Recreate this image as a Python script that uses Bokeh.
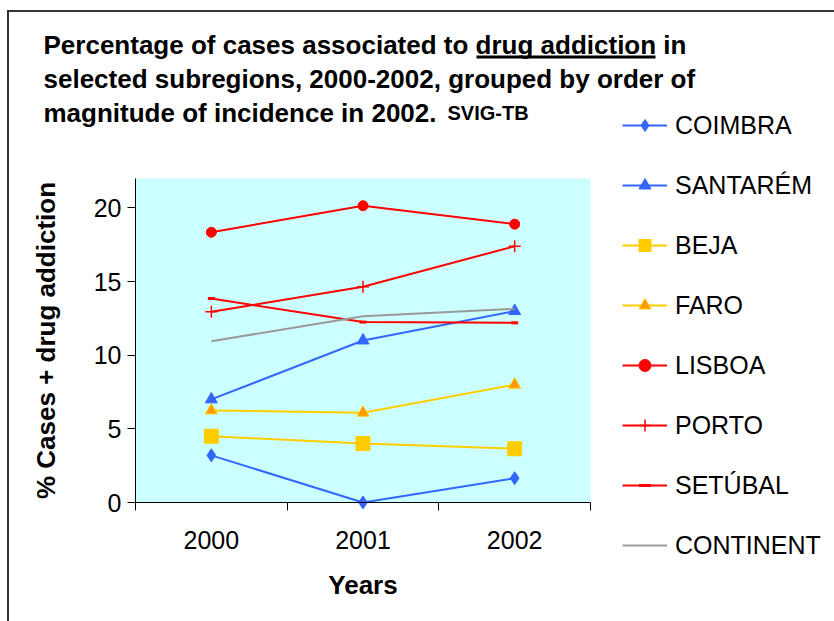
from bokeh.plotting import figure
from bokeh.models import (Range1d, FixedTicker, Label, Legend, LegendItem,
                          BoxAnnotation, LinearAxis)
from bokeh.embed import file_html
from bokeh.resources import INLINE

# Years shown on the category axis
years = ["2000", "2001", "2002"]

# Percentage of cases associated to drug addiction, per subregion
coimbra = [3.2, 0.0, 1.65]
santarem = [7.0, 11.0, 13.0]
beja = [4.5, 4.0, 3.65]
faro = [6.25, 6.1, 8.0]
lisboa = [18.35, 20.15, 18.9]
porto = [12.95, 14.65, 17.4]
setubal = [13.85, 12.25, 12.2]
continent = [10.95, 12.65, 13.15]

y_ticks = [0, 5, 10, 15, 20]
y_max = 22

FONT = "Liberation Sans"
BLUE = "#3366FF"
YELLOW = "#FFCC00"
RED = "#FF0000"
GREY = "#999999"

W, H = 834, 621
# plot area inside the canvas (pixels from the top-left corner)
PL, PR, PT, PB = 135, 590, 178, 502

# each year sits in the middle of its own unit-wide slot
n = len(years)
xs = [i + 0.5 for i in range(n)]

# ranges chosen so that the data area lands on the plot-area rectangle,
# while the frame itself covers the whole canvas (room for title and legend)
kx = (PR - PL) / n
ky = (PB - PT) / y_max
x_start = -PL / kx
y_start = -(H - PB) / ky

p = figure(width=W, height=H, output_backend="svg", toolbar_location=None,
           x_range=Range1d(x_start, x_start + W / kx),
           y_range=Range1d(y_start, y_start + H / ky),
           min_border=0, background_fill_color="white", border_fill_color="white",
           outline_line_color=None, x_axis_type=None, y_axis_type=None)
p.grid.visible = False
p.title.visible = False

# cyan plot area
p.add_layout(BoxAnnotation(left=0, right=n, bottom=0, top=y_max,
                           fill_color="#CCFFFF", fill_alpha=1, line_color=None,
                           level="underlay"))

# x axis: labels centred in each slot, tick marks at the slot boundaries
xaxis = LinearAxis(
    ticker=FixedTicker(ticks=xs, minor_ticks=list(range(n + 1))),
    major_label_overrides={x: y for x, y in zip(xs, years)},
    axis_label="Years", fixed_location=0, bounds=(0, n))
xaxis.major_tick_in = 0
xaxis.major_tick_out = 0
xaxis.minor_tick_in = 0
xaxis.minor_tick_out = 8
xaxis.minor_tick_line_color = "black"
xaxis.axis_line_color = "black"
xaxis.major_label_standoff = 20
xaxis.major_label_text_font = FONT
xaxis.major_label_text_font_size = "25px"
xaxis.major_label_text_color = "black"
xaxis.axis_label_standoff = 18
xaxis.axis_label_text_font = FONT
xaxis.axis_label_text_font_size = "26px"
xaxis.axis_label_text_font_style = "bold"
xaxis.axis_label_text_color = "black"
p.add_layout(xaxis, "below")

yaxis = LinearAxis(ticker=FixedTicker(ticks=y_ticks, minor_ticks=[]),
                   axis_label="% Cases + drug addiction",
                   fixed_location=0, bounds=(0, y_max))
yaxis.major_tick_in = 0
yaxis.major_tick_out = 8
yaxis.minor_tick_out = 0
yaxis.axis_line_color = "black"
yaxis.major_label_standoff = 6
yaxis.major_label_text_font = FONT
yaxis.major_label_text_font_size = "25px"
yaxis.major_label_text_color = "black"
yaxis.axis_label_standoff = 30
yaxis.axis_label_text_font = FONT
yaxis.axis_label_text_font_size = "26px"
yaxis.axis_label_text_font_style = "bold"
yaxis.axis_label_text_color = "black"
p.add_layout(yaxis, "left")

series = [
    ("COIMBRA", coimbra, BLUE, dict(marker="diamond", size=13, fill_color=BLUE, line_color=BLUE)),
    ("SANTARÉM", santarem, BLUE, dict(marker="triangle", size=12, fill_color=BLUE, line_color=BLUE)),
    ("BEJA", beja, YELLOW, dict(marker="square", size=14, fill_color=YELLOW, line_color=YELLOW)),
    ("FARO", faro, YELLOW, dict(marker="triangle", size=12, fill_color="#FF9900", line_color=YELLOW)),
    ("LISBOA", lisboa, RED, dict(marker="circle", size=10, fill_color=RED, line_color=RED)),
    ("PORTO", porto, RED, dict(marker="cross", size=12, line_color=RED, line_width=1.5)),
    ("SETÚBAL", setubal, RED, dict(marker="dash", size=7, line_color=RED, line_width=3)),
    ("CONTINENT", continent, GREY, None),
]

items = []
for name, vals, color, mk in series:
    rs = [p.line(xs, vals, line_color=color, line_width=2)]
    if mk is not None:
        rs.append(p.scatter(xs, vals, **mk))
    items.append(LegendItem(label=name, renderers=rs))

legend = Legend(items=items, location=(622, H - 560), orientation="vertical",
                glyph_width=45, glyph_height=30, label_height=30, spacing=30,
                label_standoff=8, padding=0, margin=0,
                border_line_color=None, background_fill_alpha=0,
                label_text_font=FONT, label_text_font_size="25px",
                label_text_color="black")
p.add_layout(legend, "center")


def title_text(x, baseline, text, size="26px"):
    p.add_layout(Label(x=x, y=H - baseline, x_units="screen", y_units="screen",
                       text=text, text_font=FONT, text_font_size=size,
                       text_font_style="bold", text_color="black",
                       text_baseline="alphabetic", text_align="left"))


title_text(43, 44, "Percentage of cases associated to drug addiction in")
title_text(43, 78, "selected subregions, 2000-2002, grouped by order of")
title_text(43, 112, "magnitude of incidence in 2002.")
title_text(447, 112, "SVIG-TB", size="20px")


def screen_box(left, right, top, bottom, color):
    # solid rectangle given in pixels from the canvas top-left corner
    p.add_layout(BoxAnnotation(left=left, right=right, top=H - top, bottom=H - bottom,
                               left_units="screen", right_units="screen",
                               top_units="screen", bottom_units="screen",
                               fill_color=color, fill_alpha=1, line_color=None))


# underline beneath "drug addiction"
screen_box(476, 655, 55, 58, "black")

# outer chart frame: top and left edges (the others run off the canvas)
screen_box(6.5, W, 9.5, 11.5, "#333333")
screen_box(6.5, 8.5, 9.5, H, "#333333")

open("out.html", "w").write(file_html(p, INLINE))
